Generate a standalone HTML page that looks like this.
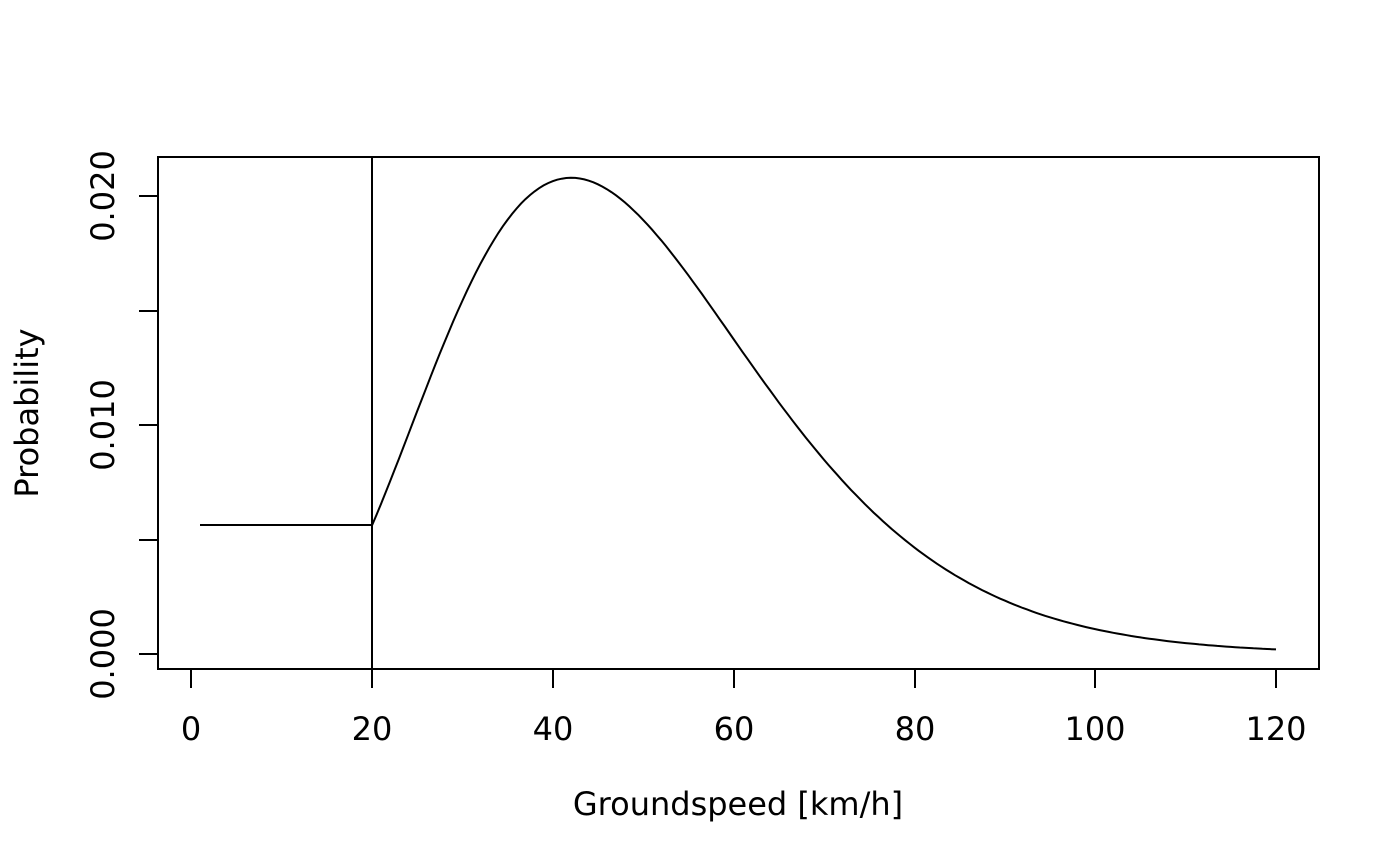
<!DOCTYPE html>
<html><head><style>body{margin:0;background:#fff}svg{display:block}text{font-family:"DejaVu Sans","Liberation Sans",sans-serif;font-size:32px;fill:#000}</style></head>
<body>
<svg id="s" width="1400" height="866" xmlns="http://www.w3.org/2000/svg">
<rect x="158" y="157" width="1161" height="512" fill="none" stroke="#000" stroke-width="2"/>
<g stroke="#000" stroke-width="2">
<line x1="191" y1="669" x2="191" y2="688"/><line x1="372" y1="669" x2="372" y2="688"/><line x1="553" y1="669" x2="553" y2="688"/><line x1="734" y1="669" x2="734" y2="688"/><line x1="915" y1="669" x2="915" y2="688"/><line x1="1095" y1="669" x2="1095" y2="688"/><line x1="1276" y1="669" x2="1276" y2="688"/>
<line x1="158" y1="654" x2="139" y2="654"/><line x1="158" y1="540" x2="139" y2="540"/><line x1="158" y1="425" x2="139" y2="425"/><line x1="158" y1="311" x2="139" y2="311"/><line x1="158" y1="196" x2="139" y2="196"/>
<line x1="372" y1="157" x2="372" y2="669"/>
<line x1="200" y1="525" x2="372" y2="525"/>
</g>
<g text-anchor="middle">
<text x="191" y="740">0</text><text x="372" y="740">20</text><text x="553" y="740">40</text><text x="734" y="740">60</text><text x="915" y="740">80</text><text x="1095" y="740">100</text><text x="1276" y="740">120</text>
<text transform="translate(114,654) rotate(-90)">0.000</text>
<text transform="translate(114,425) rotate(-90)">0.010</text>
<text transform="translate(114,196) rotate(-90)">0.020</text>
<text x="738" y="815">Groundspeed [km/h]</text>
<text transform="translate(38,413) rotate(-90)">Probability</text>
</g>
<path id="c" fill="none" stroke="#000" stroke-width="2"/>
</svg>
<script>
var k1=5.75,th=42/5.75,d=[];
function f(x){return 0.0208*Math.exp(k1*Math.log(x/42)-(x-42)/th);}
var f20=f(20);
for(var x=20;x<=120.001;x+=0.5){
 var v=f(x);
 var w=Math.max(0,1-(x-20)/25);
 v=v-(f20-0.0056)*w*w;
 d.push((d.length?'L':'M')+(191+x*9.0417).toFixed(1)+','+(654-v*22900).toFixed(1));
}
document.getElementById('c').setAttribute('d',d.join(''));
</script>
</body></html>
